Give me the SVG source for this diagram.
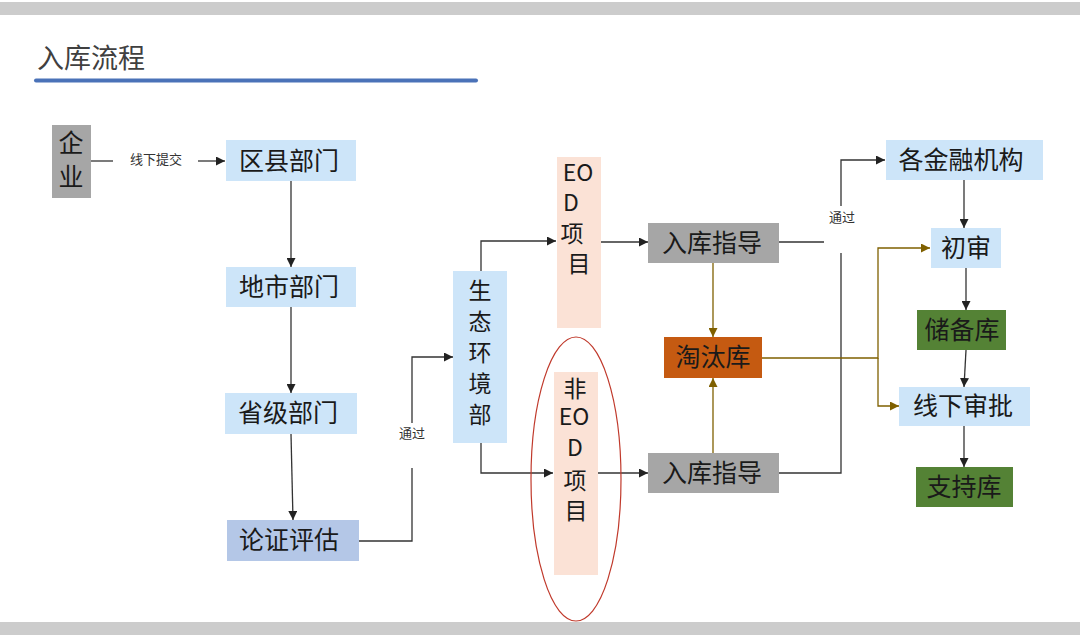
<svg xmlns="http://www.w3.org/2000/svg" width="1080" height="640" viewBox="0 0 1080 640">
<style>
.t{font-family:"Noto Sans CJK SC","Noto Sans",sans-serif;fill:#1a1a1a;text-anchor:middle;dominant-baseline:central}
.n{font-size:25px}
.v{font-size:23px}
.s{font-size:13px;fill:#333}
.blue{fill:#cde5f9}
.blue2{fill:#b4c7e7}
.gray{fill:#a6a6a6}
.peach{fill:#fbe2d6}
.org{fill:#c55a11}
.grn{fill:#548235}
.k{fill:none;stroke:#333;stroke-width:1.3}
.o{fill:none;stroke:#7f6000;stroke-width:1.3}
</style>
<defs>
<marker id="ak" viewBox="0 0 10 10" refX="10" refY="5" markerWidth="9" markerHeight="9" markerUnits="userSpaceOnUse" orient="auto"><path d="M0,0 L10,5 L0,10 z" fill="#222"/></marker>
<marker id="ao" viewBox="0 0 10 10" refX="10" refY="5" markerWidth="9" markerHeight="9" markerUnits="userSpaceOnUse" orient="auto"><path d="M0,0 L10,5 L0,10 z" fill="#7f6000"/></marker>
</defs>
<rect width="1080" height="640" fill="#fff"/>
<rect x="0" y="2" width="1080" height="13" fill="#cccccc"/>
<rect x="0" y="622" width="1080" height="13" fill="#cccccc"/>
<text x="37" y="56" style="font-family:'Noto Sans CJK SC',sans-serif;font-size:27px;fill:#404040;dominant-baseline:central">入库流程</text>
<line x1="36" y1="80.5" x2="476" y2="80.5" stroke="#4a72b8" stroke-width="4" stroke-linecap="round"/>

<g id="connectors">
<path class="k" d="M91,161 H113"/>
<text class="t s" x="156" y="158">线下提交</text>
<path class="k" d="M198,161 H225" marker-end="url(#ak)"/>
<path class="k" d="M291,181 V267" marker-end="url(#ak)"/>
<path class="k" d="M291,307 V393" marker-end="url(#ak)"/>
<path class="k" d="M291,434 L293,520" marker-end="url(#ak)"/>
<path class="k" d="M359,541 H412 V468"/>
<text class="t s" x="412" y="432">通过</text>
<path class="k" d="M412,423 V357 H453" marker-end="url(#ak)"/>
<path class="k" d="M481,271 V241 H556" marker-end="url(#ak)"/>
<path class="k" d="M481,443 V473 H553" marker-end="url(#ak)"/>
<path class="k" d="M601,242 H648" marker-end="url(#ak)"/>
<path class="k" d="M598,473 H648" marker-end="url(#ak)"/>
<path class="k" d="M779,242 H824"/>
<path class="k" d="M779,473 H841 V253"/>
<text class="t s" x="842" y="216">通过</text>
<path class="k" d="M841,206 V160 H885" marker-end="url(#ak)"/>
<path class="o" d="M713,263 V337" marker-end="url(#ao)"/>
<path class="o" d="M713,453 V378" marker-end="url(#ao)"/>
<path class="o" d="M762,358 H878 V248 H930" marker-end="url(#ao)"/>
<path class="o" d="M878,358 V406 H899" marker-end="url(#ao)"/>
<path class="k" d="M964,180 V228" marker-end="url(#ak)"/>
<path class="k" d="M966,268 V310" marker-end="url(#ak)"/>
<path class="k" d="M966,350 L964,387" marker-end="url(#ak)"/>
<path class="k" d="M964,426 V467" marker-end="url(#ak)"/>
</g>

<g id="qiye"><rect class="gray" x="52" y="125" width="39" height="73"/><text class="t" style="font-size:25px" x="71" y="141">企</text><text class="t" style="font-size:25px" x="71" y="175">业</text></g>
<g id="quxian"><rect class="blue" x="226" y="140" width="130" height="41"/><text class="t n" x="289" y="159">区县部门</text></g>
<g id="dishi"><rect class="blue" x="226" y="267" width="130" height="40"/><text class="t n" x="289" y="285">地市部门</text></g>
<g id="shengji"><rect class="blue" x="225" y="393" width="132" height="41"/><text class="t n" x="288" y="411">省级部门</text></g>
<g id="lunzheng"><rect class="blue2" x="227" y="520" width="132" height="41"/><text class="t n" x="289" y="538">论证评估</text></g>
<g id="shengtai"><rect class="blue" x="453" y="271" width="54" height="172"/>
<text class="t v" x="480" y="289">生</text><text class="t v" x="480" y="320">态</text><text class="t v" x="480" y="351">环</text><text class="t v" x="480" y="382">境</text><text class="t v" x="480" y="413">部</text></g>
<g id="eod"><rect class="peach" x="557" y="157" width="44" height="171"/>
<text class="t v" x="578" y="171">EO</text><text class="t v" x="571" y="201">D</text><text class="t v" x="572" y="232">项</text><text class="t v" x="579" y="262">目</text></g>
<g id="feieod"><rect class="peach" x="554" y="372" width="44" height="203"/>
<text class="t v" x="575" y="387">非</text><text class="t v" x="574" y="415">EO</text><text class="t v" x="575" y="446">D</text><text class="t v" x="575" y="479">项</text><text class="t v" x="576" y="509">目</text>
<ellipse cx="576" cy="479" rx="45" ry="142" fill="none" stroke="#c0392b" stroke-width="1.2"/></g>
<g id="ruku1"><rect class="gray" x="648" y="223" width="131" height="40"/><text class="t n" x="712" y="241">入库指导</text></g>
<g id="ruku2"><rect class="gray" x="648" y="453" width="131" height="40"/><text class="t n" x="712" y="471">入库指导</text></g>
<g id="taotai"><rect class="org" x="664" y="337" width="98" height="41"/><text class="t n" x="713" y="355">淘汰库</text></g>
<g id="jinrong"><rect class="blue" x="886" y="140" width="157" height="40"/><text class="t n" x="961" y="158">各金融机构</text></g>
<g id="chushen"><rect class="blue" x="931" y="228" width="70" height="40"/><text class="t n" x="966" y="246">初审</text></g>
<g id="chubei"><rect class="grn" x="917" y="310" width="89" height="40"/><text class="t n" x="962" y="328">储备库</text></g>
<g id="xianxia"><rect class="blue" x="899" y="387" width="131" height="39"/><text class="t n" x="963" y="404">线下审批</text></g>
<g id="zhichi"><rect class="grn" x="916" y="467" width="97" height="40"/><text class="t n" x="964" y="485">支持库</text></g>
</svg>
